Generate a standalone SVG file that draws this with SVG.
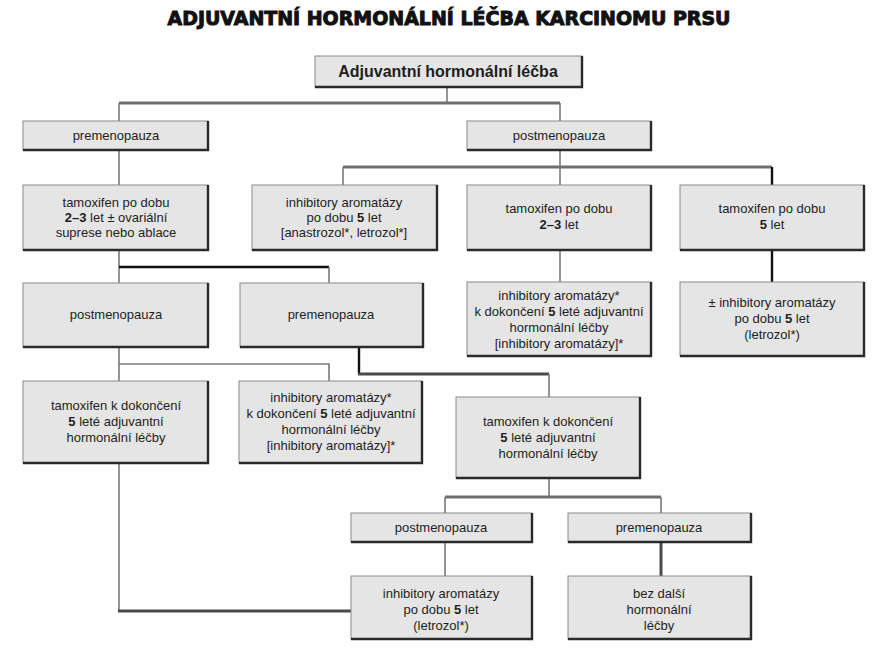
<svg xmlns="http://www.w3.org/2000/svg" width="887" height="655" viewBox="0 0 887 655">
<style>
.bg{fill:#ffffff}
.box rect{fill:#e5e5e5;stroke:#8a8a8a;stroke-width:1}
.box path{fill:none;stroke:#2a2a2a;stroke-width:2.4}
.box text{font-family:"Liberation Sans","DejaVu Sans",sans-serif;font-size:13px;fill:#1e1e1e;text-anchor:middle}
.box .b{font-weight:bold}
.title{font-family:"DejaVu Sans","Liberation Sans",sans-serif;font-weight:bold;font-size:19px;fill:#111;stroke:#111;stroke-width:1;text-anchor:middle}
.c1{fill:none;stroke:#7a7a7a;stroke-width:1.6}
.c2{fill:none;stroke:#6e6e6e;stroke-width:3}
.c3{fill:none;stroke:#111;stroke-width:2.4}
.c4{fill:none;stroke:#4a4a4a;stroke-width:3}
</style>
<rect class="bg" x="0" y="0" width="887" height="655"/>
<text class="title" x="449" y="25" textLength="563" lengthAdjust="spacingAndGlyphs">ADJUVANTNÍ HORMONÁLNÍ LÉČBA KARCINOMU PRSU</text>

<g id="connectors">
  <path class="c1" d="M447 87 V103"/>
  <path class="c2" d="M119 103 H560"/>
  <path class="c1" d="M119 103 V121"/>
  <path class="c1" d="M560 103 V121"/>
  <path class="c1" d="M119 150 V185"/>
  <path class="c1" d="M560 150 V185"/>
  <path class="c2" d="M343 167 H772"/>
  <path class="c1" d="M343 167 V185"/>
  <path class="c3" d="M772 167 V185"/>
  <path class="c1" d="M119 250 V283"/>
  <path class="c3" d="M119 267 H329"/>
  <path class="c1" d="M329 267 V283"/>
  <path class="c1" d="M560 250 V282"/>
  <path class="c3" d="M772 250 V282"/>
  <path class="c1" d="M119 347 V381"/>
  <path class="c1" d="M119 364 H329 V381"/>
  <path class="c3" d="M359 347 V374"/>
  <path class="c4" d="M358 374 H549"/>
  <path class="c1" d="M549 374 V397"/>
  <path class="c1" d="M549 478 V497"/>
  <path class="c2" d="M445 497 H661"/>
  <path class="c1" d="M445 497 V513"/>
  <path class="c1" d="M661 497 V513"/>
  <path class="c1" d="M445 542 V576"/>
  <path class="c4" d="M661 542 V576"/>
  <path class="c1" d="M119 463 V611"/>
  <path class="c4" d="M118 611 H351"/>
</g>

<g id="n-root" class="box">
  <rect x="315" y="56" width="267" height="31"/><path d="M582 56 V87 H315"/>
  <text x="448" y="77" class="b" style="font-size:16px">Adjuvantní hormonální léčba</text>
</g>
<g id="n-pre1" class="box">
  <rect x="23" y="121" width="185" height="29"/><path d="M208 121 V150 H23"/>
  <text x="116" y="140">premenopauza</text>
</g>
<g id="n-post1" class="box">
  <rect x="467" y="121" width="184" height="29"/><path d="M651 121 V150 H467"/>
  <text x="559" y="140">postmenopauza</text>
</g>
<g id="n-tam1" class="box">
  <rect x="23" y="185" width="185" height="65"/><path d="M208 185 V250 H23"/>
  <text x="116" y="207">tamoxifen po dobu</text>
  <text x="116" y="222"><tspan class="b">2–3</tspan> let ± ovariální</text>
  <text x="116" y="237">suprese nebo ablace</text>
</g>
<g id="n-ia1" class="box">
  <rect x="252" y="185" width="185" height="65"/><path d="M437 185 V250 H252"/>
  <text x="344" y="207">inhibitory aromatázy</text>
  <text x="344" y="222">po dobu <tspan class="b">5</tspan> let</text>
  <text x="344" y="237">[anastrozol*, letrozol*]</text>
</g>
<g id="n-tam23" class="box">
  <rect x="467" y="185" width="184" height="65"/><path d="M651 185 V250 H467"/>
  <text x="559" y="213">tamoxifen po dobu</text>
  <text x="559" y="229"><tspan class="b">2–3</tspan> let</text>
</g>
<g id="n-tam5" class="box">
  <rect x="680" y="185" width="184" height="65"/><path d="M864 185 V250 H680"/>
  <text x="772" y="213">tamoxifen po dobu</text>
  <text x="772" y="229"><tspan class="b">5</tspan> let</text>
</g>
<g id="n-post2" class="box">
  <rect x="23" y="283" width="185" height="64"/><path d="M208 283 V347 H23"/>
  <text x="116" y="319">postmenopauza</text>
</g>
<g id="n-pre2" class="box">
  <rect x="240" y="283" width="183" height="64"/><path d="M423 283 V347 H240"/>
  <text x="331" y="319">premenopauza</text>
</g>
<g id="n-ia2" class="box">
  <rect x="467" y="282" width="184" height="74"/><path d="M651 282 V356 H467"/>
  <text x="559" y="300">inhibitory aromatázy*</text>
  <text x="559" y="316">k dokončení <tspan class="b">5</tspan> leté adjuvantní</text>
  <text x="559" y="332">hormonální léčby</text>
  <text x="559" y="348">[inhibitory aromatázy]*</text>
</g>
<g id="n-pmia" class="box">
  <rect x="680" y="282" width="184" height="74"/><path d="M864 282 V356 H680"/>
  <text x="772" y="307">± inhibitory aromatázy</text>
  <text x="772" y="323">po dobu <tspan class="b">5</tspan> let</text>
  <text x="772" y="339">(letrozol*)</text>
</g>
<g id="n-tkd1" class="box">
  <rect x="23" y="381" width="185" height="82"/><path d="M208 381 V463 H23"/>
  <text x="116" y="410">tamoxifen k dokončení</text>
  <text x="116" y="426"><tspan class="b">5</tspan> leté adjuvantní</text>
  <text x="116" y="442">hormonální léčby</text>
</g>
<g id="n-ia3" class="box">
  <rect x="239" y="381" width="183" height="82"/><path d="M422 381 V463 H239"/>
  <text x="331" y="402">inhibitory aromatázy*</text>
  <text x="331" y="418">k dokončení <tspan class="b">5</tspan> leté adjuvantní</text>
  <text x="331" y="434">hormonální léčby</text>
  <text x="331" y="450">[inhibitory aromatázy]*</text>
</g>
<g id="n-tkd2" class="box">
  <rect x="456" y="397" width="184" height="81"/><path d="M640 397 V478 H456"/>
  <text x="548" y="426">tamoxifen k dokončení</text>
  <text x="548" y="442"><tspan class="b">5</tspan> leté adjuvantní</text>
  <text x="548" y="458">hormonální léčby</text>
</g>
<g id="n-post3" class="box">
  <rect x="351" y="513" width="181" height="29"/><path d="M532 513 V542 H351"/>
  <text x="441" y="532">postmenopauza</text>
</g>
<g id="n-pre3" class="box">
  <rect x="568" y="513" width="183" height="29"/><path d="M751 513 V542 H568"/>
  <text x="659" y="532">premenopauza</text>
</g>
<g id="n-ia4" class="box">
  <rect x="351" y="576" width="181" height="63"/><path d="M532 576 V639 H351"/>
  <text x="441" y="598">inhibitory aromatázy</text>
  <text x="441" y="614">po dobu <tspan class="b">5</tspan> let</text>
  <text x="441" y="630">(letrozol*)</text>
</g>
<g id="n-bez" class="box">
  <rect x="568" y="576" width="183" height="63"/><path d="M751 576 V639 H568"/>
  <text x="659" y="598">bez další</text>
  <text x="659" y="614">hormonální</text>
  <text x="659" y="630">léčby</text>
</g>
</svg>
